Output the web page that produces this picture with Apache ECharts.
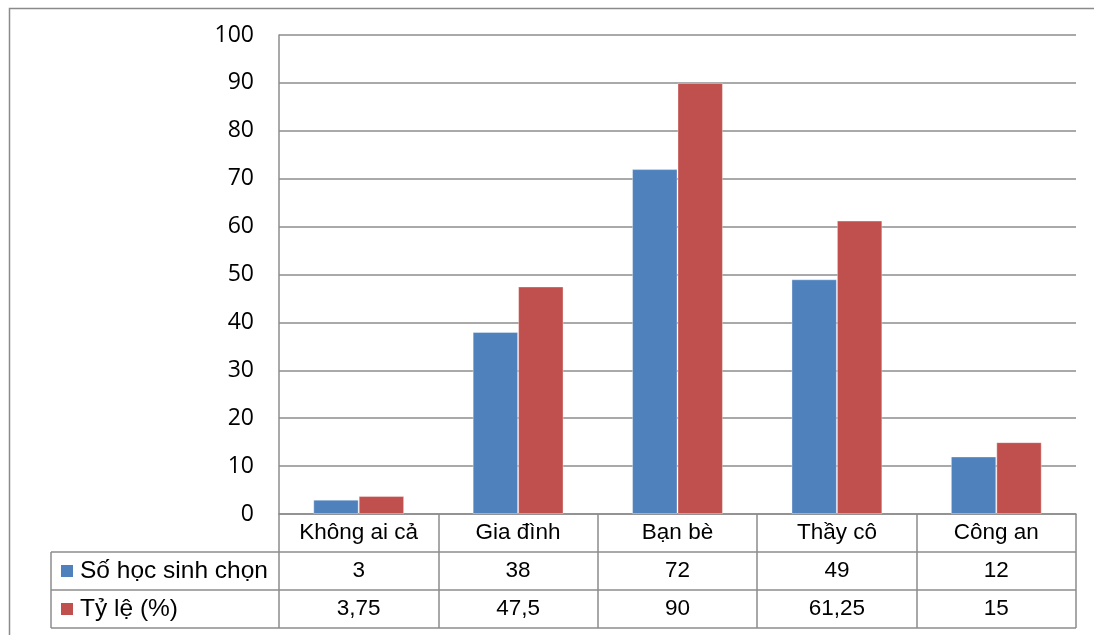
<!DOCTYPE html>
<html>
<head>
<meta charset="utf-8">
<script src="https://cdn.jsdelivr.net/npm/echarts@6/dist/echarts.min.js"></script>
<style>
  html, body { margin: 0; padding: 0; background: #fff; }
  #chart { width: 1094px; height: 635px; }
</style>
</head>
<body>
<div id="chart"></div>
<script>
// Nguồn hỗ trợ mà học sinh lựa chọn
const categories = ['Không ai cả', 'Gia đình', 'Bạn bè', 'Thầy cô', 'Công an'];
const seriesNames = ['Số học sinh chọn', 'Tỷ lệ (%)'];
const studentCounts = [3, 38, 72, 49, 12];
const percentages = [3.75, 47.5, 90, 61.25, 15];
const yTicks = { min: 0, max: 100, interval: 10 };

const colors = ['#4f81bd', '#c0504d'];
const lineGray = '#8c8c8c';
const textFont = '"Liberation Sans", Arial, sans-serif';

// Layout of the plot area and the data table under it
const grid = { left: 279, right: 18, top: 35, bottom: 121 };
const rowH = 38;
const tableLeft = 51;

const fmt = v => String(v).replace('.', ',');

const chart = echarts.init(document.getElementById('chart'));
const W = 1094, H = 635;
const axisY = H - grid.bottom;
const plotRight = W - grid.right;

const graphics = [
  // chart frame
  { type: 'rect', shape: { x: 9.5, y: 8.5, width: W + 20, height: H + 20 },
    style: { fill: 'none', stroke: '#8a8a8a', lineWidth: 1.5 }, silent: true }
];
// table rows below the category labels
[1, 2, 3].forEach(i => {
  graphics.push({ type: 'line', shape: { x1: tableLeft, y1: axisY + rowH * i, x2: plotRight, y2: axisY + rowH * i },
    style: { stroke: lineGray, lineWidth: 1.5 }, silent: true });
});
graphics.push({ type: 'line', shape: { x1: tableLeft, y1: axisY + rowH, x2: tableLeft, y2: axisY + rowH * 3 },
  style: { stroke: lineGray, lineWidth: 1.5 }, silent: true });
// legend keys in the first column
seriesNames.forEach((name, i) => {
  const cy = axisY + rowH * (i + 1) + rowH / 2;
  graphics.push({ type: 'rect', shape: { x: 61, y: cy - 6, width: 12, height: 12 },
    style: { fill: colors[i] }, silent: true });
  graphics.push({ type: 'text', x: 80, y: cy,
    style: { text: name, fill: '#000', font: '24.5px ' + textFont, textVerticalAlign: 'middle' }, silent: true });
});

chart.setOption({
  animation: false,
  grid: grid,
  xAxis: {
    type: 'category',
    data: categories,
    axisLine: { show: true, lineStyle: { color: lineGray, width: 1.5 } },
    axisTick: { show: true, length: rowH * 3, lineStyle: { color: lineGray, width: 1.5 } },
    axisLabel: {
      margin: 0,
      interval: 0,
      formatter: (val, idx) => `{c|${val}}\n{v|${fmt(studentCounts[idx])}}\n{v|${fmt(percentages[idx])}}`,
      rich: {
        c: { fontSize: 22.5, lineHeight: rowH, color: '#000', fontFamily: textFont },
        v: { fontSize: 22.5, lineHeight: rowH, color: '#000', fontFamily: textFont }
      }
    }
  },
  yAxis: {
    type: 'value',
    min: yTicks.min, max: yTicks.max, interval: yTicks.interval,
    axisLine: { show: true, lineStyle: { color: lineGray, width: 1.5 } },
    axisTick: { show: false },
    splitLine: { lineStyle: { color: lineGray, width: 1.5 } },
    axisLabel: { margin: 25, fontSize: 23, color: '#000', fontFamily: '"Open Sans", sans-serif' }
  },
  series: [
    { name: seriesNames[0], type: 'bar', data: studentCounts, barGap: '0%', barCategoryGap: '43%',
      itemStyle: { color: colors[0], borderColor: 'rgba(255,255,255,0.35)', borderWidth: 1 } },
    { name: seriesNames[1], type: 'bar', data: percentages,
      itemStyle: { color: colors[1], borderColor: 'rgba(255,255,255,0.35)', borderWidth: 1 } }
  ],
  graphic: graphics
});
</script>
</body>
</html>
